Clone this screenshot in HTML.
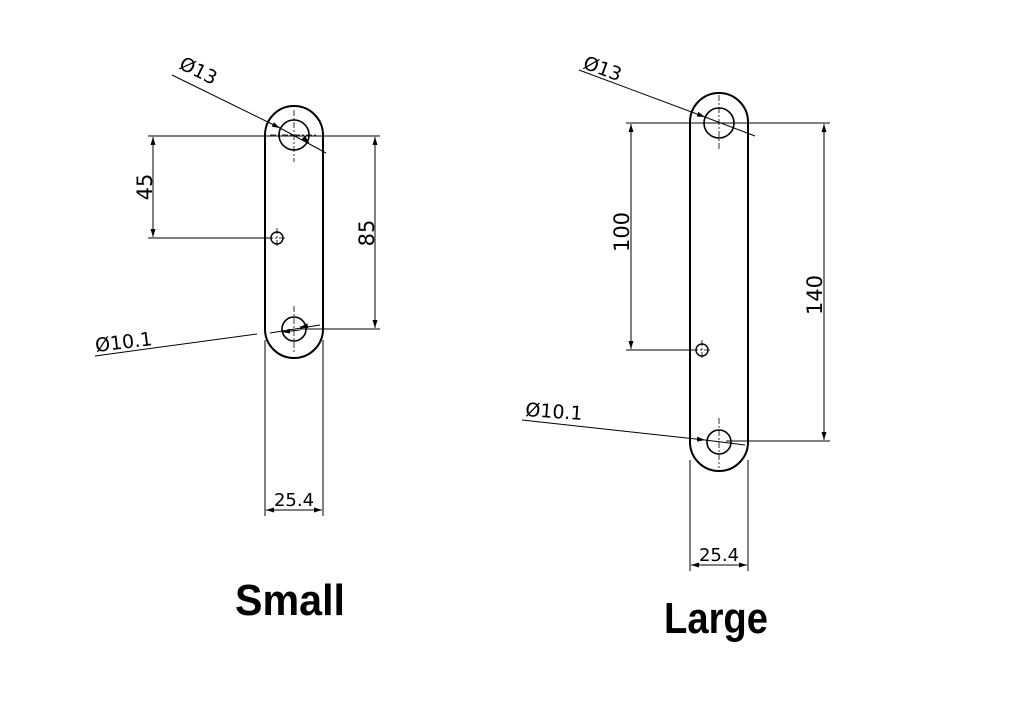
<!DOCTYPE html>
<html><head><meta charset="utf-8"><style>
html,body{margin:0;padding:0;background:#fff;}
svg{display:block;}
text{font-family:"DejaVu Sans","Liberation Sans",sans-serif;}
</style></head><body>
<svg width="1011" height="723" viewBox="0 0 1011 723" xmlns="http://www.w3.org/2000/svg">
<defs>
<marker id="a" markerWidth="8" markerHeight="6" refX="8" refY="3" orient="auto-start-reverse" markerUnits="userSpaceOnUse"><path d="M0,0.5 L8,3 L0,5.5 z" fill="#000"/></marker>
</defs>
<g fill="none" stroke="#000">
<path d="M265,135 A29,29 0 0 1 323,135 L323,329 A29,29 0 0 1 265,329 Z" stroke-width="2"/>
<circle cx="294" cy="135" r="15" stroke-width="1.6"/>
<circle cx="277" cy="238" r="6" stroke-width="1.4"/>
<circle cx="294" cy="329" r="12" stroke-width="1.6"/>
<g stroke-width="0.8" stroke-dasharray="6,2,2,2">
<line x1="294" y1="110" x2="294" y2="162"/><line x1="270" y1="135" x2="318" y2="135"/>
<line x1="294" y1="306" x2="294" y2="352"/>
<line x1="277" y1="228" x2="277" y2="248"/><line x1="267" y1="238" x2="287" y2="238"/>
</g>
<g stroke-width="1">
<line x1="148" y1="136" x2="380" y2="136"/>
<line x1="148" y1="238" x2="271" y2="238"/>
<line x1="300" y1="329" x2="380" y2="329"/>
<line x1="153" y1="137" x2="153" y2="237" marker-start="url(#a)" marker-end="url(#a)"/>
<line x1="375" y1="137" x2="375" y2="328" marker-start="url(#a)" marker-end="url(#a)"/>
<line x1="265" y1="340" x2="265" y2="516"/><line x1="323" y1="340" x2="323" y2="516"/>
<line x1="266" y1="510" x2="322" y2="510" marker-start="url(#a)" marker-end="url(#a)"/>
<line x1="172" y1="75" x2="280" y2="128" marker-end="url(#a)"/>
<line x1="280" y1="128" x2="326" y2="153"/>
<line x1="308" y1="142" x2="309" y2="143" marker-end="url(#a)"/>
<line x1="95" y1="356" x2="257" y2="334"/>
<line x1="270" y1="333" x2="320" y2="325"/>
<line x1="300" y1="330" x2="282" y2="332" marker-end="url(#a)"/>
<line x1="300" y1="327" x2="306" y2="326" marker-start="url(#a)"/>
</g>
<path d="M690,122 A29,29 0 0 1 748,122 L748,442 A29,29 0 0 1 690,442 Z" stroke-width="2"/>
<circle cx="719" cy="123" r="15" stroke-width="1.6"/>
<circle cx="702" cy="350" r="6" stroke-width="1.4"/>
<circle cx="719" cy="442" r="12" stroke-width="1.6"/>
<g stroke-width="0.8" stroke-dasharray="6,2,2,2">
<line x1="719" y1="95" x2="719" y2="150"/><line x1="695" y1="123" x2="743" y2="123"/>
<line x1="719" y1="418" x2="719" y2="468"/>
<line x1="702" y1="340" x2="702" y2="360"/><line x1="692" y1="350" x2="712" y2="350"/>
</g>
<g stroke-width="1">
<line x1="626" y1="123" x2="830" y2="123"/>
<line x1="626" y1="350" x2="696" y2="350"/>
<line x1="726" y1="441" x2="830" y2="441"/>
<line x1="631" y1="124" x2="631" y2="349" marker-start="url(#a)" marker-end="url(#a)"/>
<line x1="824" y1="124" x2="824" y2="440" marker-start="url(#a)" marker-end="url(#a)"/>
<line x1="690" y1="460" x2="690" y2="571"/><line x1="748" y1="460" x2="748" y2="571"/>
<line x1="691" y1="565" x2="747" y2="565" marker-start="url(#a)" marker-end="url(#a)"/>
<line x1="579" y1="70" x2="705" y2="117" marker-end="url(#a)"/>
<line x1="705" y1="117" x2="755" y2="136"/>
<line x1="522" y1="420" x2="705" y2="440" marker-end="url(#a)"/>
<line x1="705" y1="440" x2="745" y2="445"/>
</g>
</g>
<g fill="#000" font-size="19">
<text x="178" y="68" transform="rotate(26 178 68)">Ø13</text>
<text x="96" y="352" transform="rotate(-7 96 352)">Ø10.1</text>
<text transform="translate(152,187) rotate(-90)" text-anchor="middle" font-size="21">45</text>
<text transform="translate(374,233) rotate(-90)" text-anchor="middle" font-size="21">85</text>
<text x="294" y="506" text-anchor="middle" font-size="18">25.4</text>
<text x="582" y="68" transform="rotate(20 582 68)">Ø13</text>
<text x="525" y="416" transform="rotate(4 525 416)">Ø10.1</text>
<text transform="translate(629,232) rotate(-90)" text-anchor="middle" font-size="21">100</text>
<text transform="translate(822,295) rotate(-90)" text-anchor="middle" font-size="21">140</text>
<text x="719" y="561" text-anchor="middle" font-size="18">25.4</text>
<text x="235" y="615" font-size="44" font-weight="bold" textLength="110" lengthAdjust="spacingAndGlyphs" style="font-family:'Liberation Sans',sans-serif">Small</text>
<text x="664" y="633" font-size="44" font-weight="bold" textLength="104" lengthAdjust="spacingAndGlyphs" style="font-family:'Liberation Sans',sans-serif">Large</text>
</g>
</svg>
</body></html>
